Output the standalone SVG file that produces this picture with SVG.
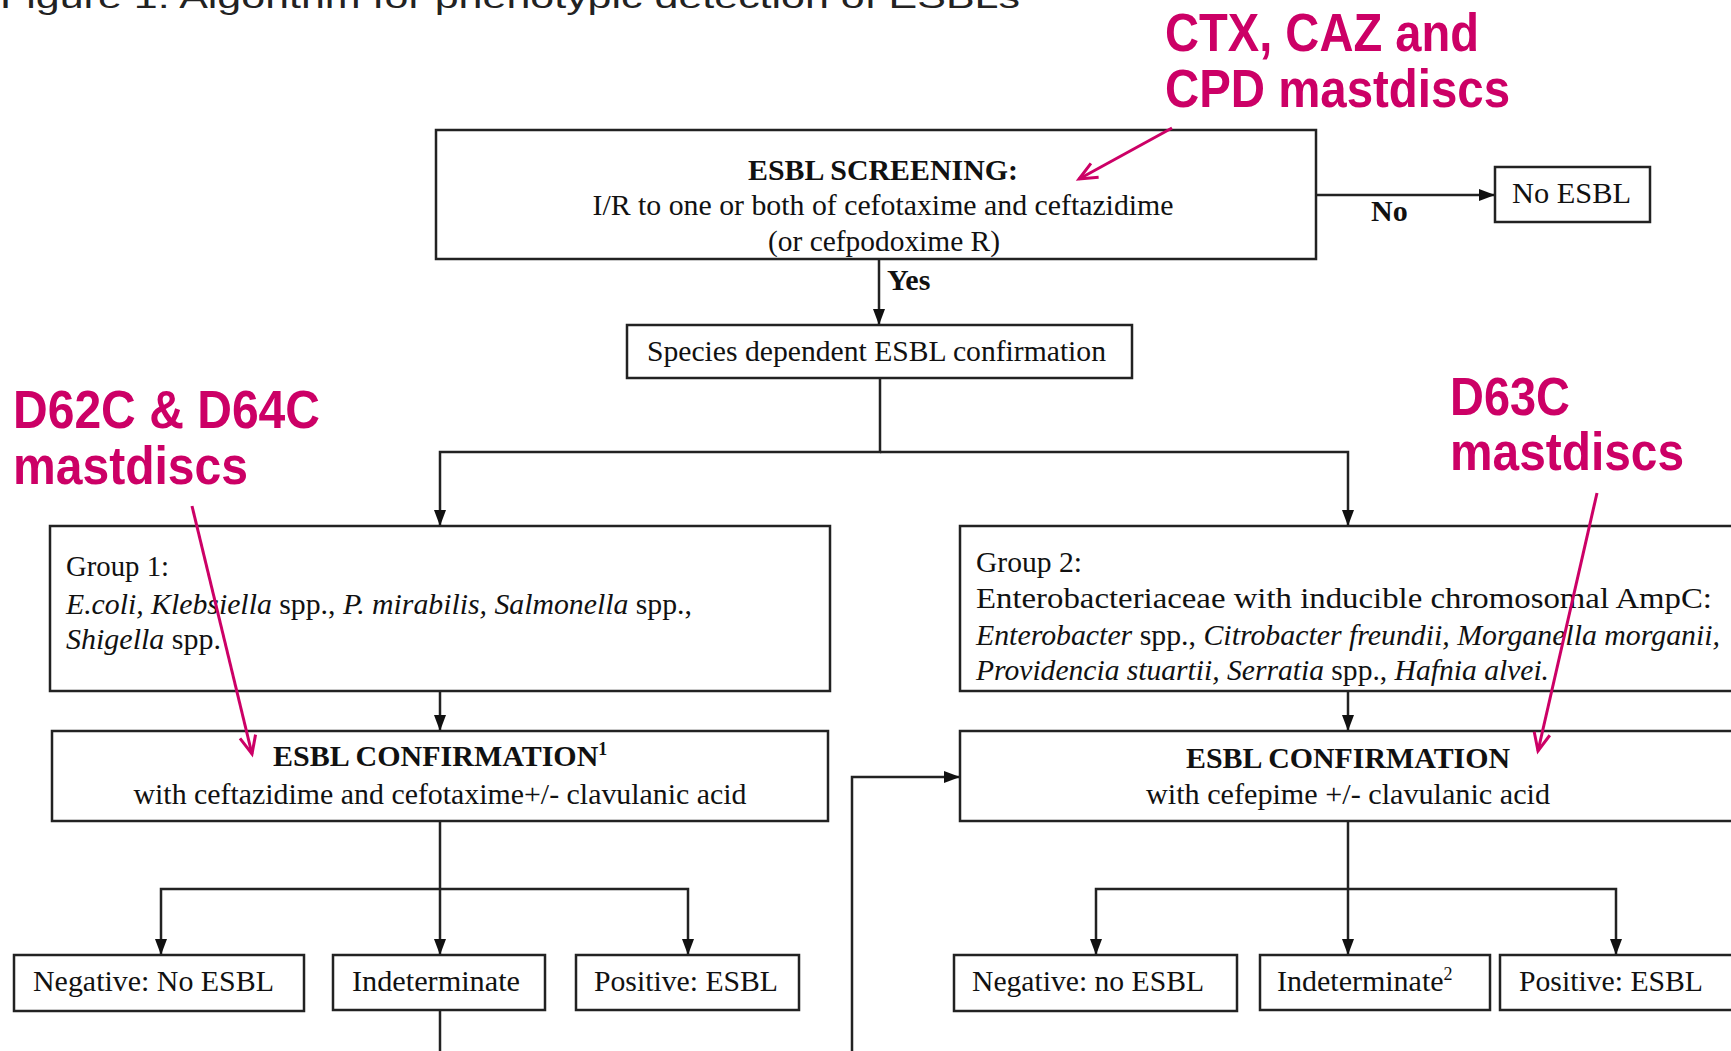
<svg xmlns="http://www.w3.org/2000/svg" width="1731" height="1051" viewBox="0 0 1731 1051">
<defs>
<style>
.box{fill:#fff;stroke:#222;stroke-width:2.5}
.t{font-family:"Liberation Serif","Times New Roman",serif;font-size:30px;fill:#111}
.b{font-weight:bold}
.i{font-style:italic}
.con{fill:none;stroke:#222;stroke-width:2.5}
.pk{font-family:"Liberation Sans",Arial,sans-serif;font-weight:bold;font-size:54px;fill:#CC0066}
.pa{fill:none;stroke:#CC0066;stroke-width:3}
</style>
<marker id="ah" viewBox="0 0 16 12" refX="16" refY="6" markerWidth="16" markerHeight="12" markerUnits="userSpaceOnUse" orient="auto">
<path d="M0,0 L16,6 L0,12 z" fill="#111"/>
</marker>
<marker id="pah" viewBox="-2 -2 24 20" refX="18" refY="8" markerWidth="24" markerHeight="20" markerUnits="userSpaceOnUse" orient="auto">
<path d="M0,0 L18,8 L0,16" fill="none" stroke="#CC0066" stroke-width="3"/>
</marker>
</defs>
<rect width="1731" height="1051" fill="#fff"/>

<text x="0" y="8" font-family="'Liberation Sans',Arial,sans-serif" font-size="32" fill="#222" textLength="1020" lengthAdjust="spacingAndGlyphs">Figure 1: Algorithm for phenotypic detection of ESBLs</text>

<g id="connectors">
<path class="con" d="M879,259 L879,325" marker-end="url(#ah)"/>
<path class="con" d="M1316,195 L1495,195" marker-end="url(#ah)"/>
<path class="con" d="M880,378 L880,452 L440,452 L440,526" marker-end="url(#ah)"/>
<path class="con" d="M880,452 L1348,452 L1348,526" marker-end="url(#ah)"/>
<path class="con" d="M440,691 L440,731" marker-end="url(#ah)"/>
<path class="con" d="M1348,691 L1348,731" marker-end="url(#ah)"/>
<path class="con" d="M440,821 L440,955" marker-end="url(#ah)"/>
<path class="con" d="M440,889 L161,889 L161,955" marker-end="url(#ah)"/>
<path class="con" d="M440,889 L688,889 L688,955" marker-end="url(#ah)"/>
<path class="con" d="M1348,821 L1348,955" marker-end="url(#ah)"/>
<path class="con" d="M1348,889 L1096,889 L1096,955" marker-end="url(#ah)"/>
<path class="con" d="M1348,889 L1616,889 L1616,955" marker-end="url(#ah)"/>
<path class="con" d="M440,1010 L440,1051"/>
<path class="con" d="M852,1051 L852,777 L960,777" marker-end="url(#ah)"/>
<text class="t b" x="887" y="290" font-size="27">Yes</text>
<text class="t b" x="1371" y="221" font-size="27">No</text>
</g>

<g id="screening">
<rect class="box" x="436" y="130" width="880" height="129"/>
<text class="t b" x="883" y="180" text-anchor="middle" textLength="270" lengthAdjust="spacingAndGlyphs">ESBL SCREENING:</text>
<text class="t" x="883" y="215" text-anchor="middle" textLength="581" lengthAdjust="spacingAndGlyphs">I/R to one or both of cefotaxime and ceftazidime</text>
<text class="t" x="884" y="251" text-anchor="middle" textLength="232" lengthAdjust="spacingAndGlyphs">(or cefpodoxime R)</text>
</g>

<g id="no-esbl">
<rect class="box" x="1495" y="167" width="155" height="55"/>
<text class="t" x="1512" y="203" textLength="119" lengthAdjust="spacingAndGlyphs">No ESBL</text>
</g>

<g id="species">
<rect class="box" x="627" y="325" width="505" height="53"/>
<text class="t" x="647" y="361" textLength="459" lengthAdjust="spacingAndGlyphs">Species dependent ESBL confirmation</text>
</g>

<g id="group1">
<rect class="box" x="50" y="526" width="780" height="165"/>
<text class="t" x="66" y="576" textLength="103" lengthAdjust="spacingAndGlyphs">Group 1:</text>
<text class="t" x="66" y="614" textLength="626" lengthAdjust="spacingAndGlyphs"><tspan class="i">E.coli, Klebsiella</tspan> spp., <tspan class="i">P. mirabilis,  Salmonella</tspan> spp.,</text>
<text class="t" x="66" y="649" textLength="155" lengthAdjust="spacingAndGlyphs"><tspan class="i">Shigella</tspan> spp.</text>
</g>

<g id="group2">
<rect class="box" x="960" y="526" width="790" height="165"/>
<text class="t" x="976" y="572" textLength="106" lengthAdjust="spacingAndGlyphs">Group 2:</text>
<text class="t" x="976" y="608" textLength="736" lengthAdjust="spacingAndGlyphs">Enterobacteriaceae with inducible chromosomal AmpC:</text>
<text class="t" x="976" y="645" textLength="744" lengthAdjust="spacingAndGlyphs"><tspan class="i">Enterobacter</tspan> spp., <tspan class="i">Citrobacter  freundii,  Morganella  morganii,</tspan></text>
<text class="t" x="976" y="680" textLength="573" lengthAdjust="spacingAndGlyphs"><tspan class="i">Providencia stuartii,  Serratia</tspan>  spp., <tspan class="i">Hafnia alvei.</tspan></text>
</g>

<g id="conf1">
<rect class="box" x="52" y="731" width="776" height="90"/>
<text class="t b" x="273" y="766">ESBL CONFIRMATION<tspan font-size="18" dy="-11">1</tspan></text>
<text class="t" x="440" y="804" text-anchor="middle" textLength="613" lengthAdjust="spacingAndGlyphs">with ceftazidime and cefotaxime+/- clavulanic  acid</text>
</g>

<g id="conf2">
<rect class="box" x="960" y="731" width="790" height="90"/>
<text class="t b" x="1348" y="768" text-anchor="middle" textLength="324" lengthAdjust="spacingAndGlyphs">ESBL CONFIRMATION</text>
<text class="t" x="1348" y="804" text-anchor="middle" textLength="404" lengthAdjust="spacingAndGlyphs">with cefepime  +/- clavulanic  acid</text>
</g>

<g id="neg1">
<rect class="box" x="14" y="955" width="290" height="56"/>
<text class="t" x="33" y="991" textLength="241" lengthAdjust="spacingAndGlyphs">Negative: No ESBL</text>
</g>
<g id="ind1">
<rect class="box" x="333" y="955" width="212" height="55"/>
<text class="t" x="352" y="991" textLength="168" lengthAdjust="spacingAndGlyphs">Indeterminate</text>
</g>
<g id="pos1">
<rect class="box" x="576" y="955" width="223" height="55"/>
<text class="t" x="594" y="991" textLength="184" lengthAdjust="spacingAndGlyphs">Positive: ESBL</text>
</g>
<g id="neg2">
<rect class="box" x="954" y="955" width="283" height="56"/>
<text class="t" x="972" y="991" textLength="232" lengthAdjust="spacingAndGlyphs">Negative: no ESBL</text>
</g>
<g id="ind2">
<rect class="box" x="1260" y="955" width="230" height="55"/>
<text class="t" x="1277" y="991">Indeterminate<tspan font-size="18" dy="-11">2</tspan></text>
</g>
<g id="pos2">
<rect class="box" x="1500" y="955" width="250" height="55"/>
<text class="t" x="1519" y="991" textLength="184" lengthAdjust="spacingAndGlyphs">Positive: ESBL</text>
</g>

<g id="annotations">
<text class="pk" x="1165" y="51" textLength="314" lengthAdjust="spacingAndGlyphs">CTX, CAZ and</text>
<text class="pk" x="1165" y="107" textLength="345" lengthAdjust="spacingAndGlyphs">CPD mastdiscs</text>
<text class="pk" x="13" y="428" textLength="307" lengthAdjust="spacingAndGlyphs">D62C &amp; D64C</text>
<text class="pk" x="13" y="484" textLength="235" lengthAdjust="spacingAndGlyphs">mastdiscs</text>
<text class="pk" x="1450" y="415" textLength="120" lengthAdjust="spacingAndGlyphs">D63C</text>
<text class="pk" x="1450" y="470" textLength="234" lengthAdjust="spacingAndGlyphs">mastdiscs</text>
<path class="pa" d="M1172,128 L1079,179" marker-end="url(#pah)"/>
<path class="pa" d="M192,506 L252,754" marker-end="url(#pah)"/>
<path class="pa" d="M1597,493 L1538,751" marker-end="url(#pah)"/>
</g>
</svg>
